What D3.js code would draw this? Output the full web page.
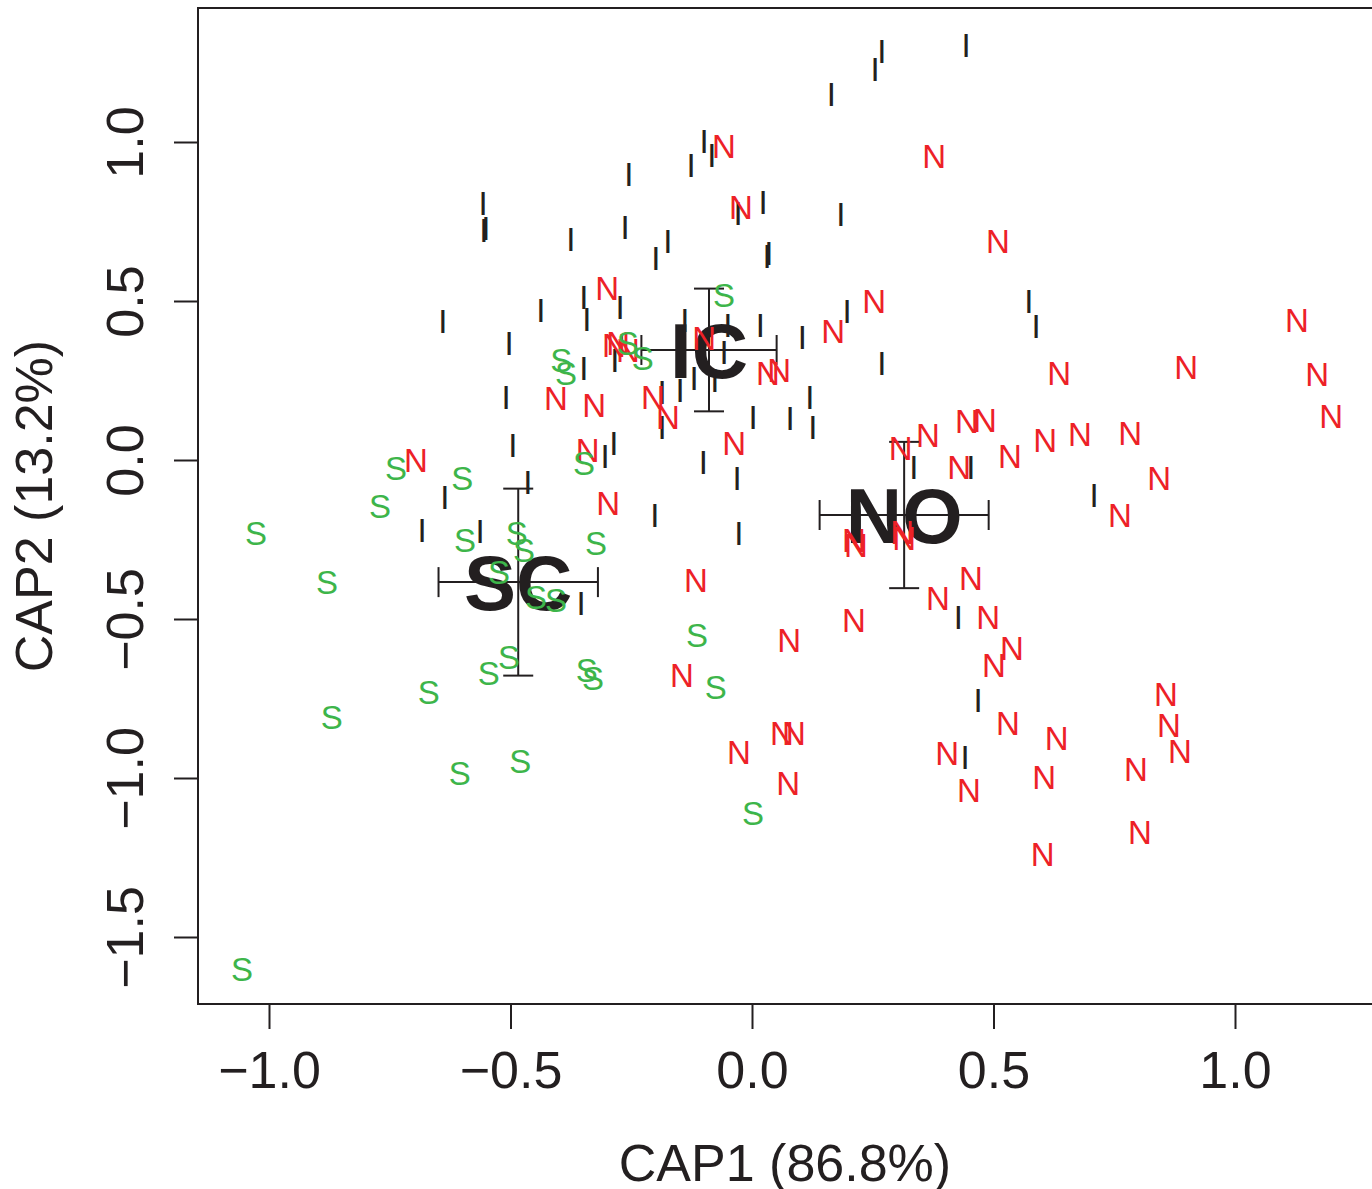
<!DOCTYPE html>
<html>
<head>
<meta charset="utf-8">
<script src="https://cdn.jsdelivr.net/npm/d3@7"></script>
<style>
  html, body { margin: 0; padding: 0; background: #fff; }
  svg text { font-family: "Liberation Sans", Arial, Helvetica, sans-serif; }
</style>
</head>
<body>
<svg id="chart" width="1372" height="1189"></svg>
<script>
// ---- data ----
const xTicks = [-1.0, -0.5, 0.0, 0.5, 1.0];
const yTicks = [-1.5, -1.0, -0.5, 0.0, 0.5, 1.0];
const xTitle = "CAP1 (86.8%)";
const yTitle = "CAP2 (13.2%)";

// group "I" samples [CAP1, CAP2]
const pointsI = [
  [-0.557,0.808],[-0.555,0.723],[-0.551,0.730],[-0.375,0.695],[-0.348,0.513],[-0.342,0.443],
  [-0.437,0.472],[-0.640,0.437],[-0.503,0.368],[0.269,1.286],[0.255,1.230],[0.164,1.151],
  [0.443,1.305],[-0.099,1.003],[-0.083,0.959],[-0.126,0.928],[-0.255,0.899],[0.023,0.811],
  [-0.029,0.777],[0.184,0.774],[-0.263,0.733],[-0.174,0.689],[-0.199,0.635],[0.035,0.651],
  [0.031,0.642],[-0.273,0.481],[0.197,0.469],[0.573,0.500],[0.588,0.421],[-0.139,0.440],
  [-0.050,0.425],[0.017,0.425],[0.104,0.387],[0.269,0.305],[-0.348,0.289],[-0.509,0.198],
  [-0.495,0.047],[-0.464,-0.069],[-0.636,-0.116],[-0.683,-0.220],[-0.563,-0.223],[-0.354,-0.450],
  [-0.284,0.314],[-0.186,0.214],[-0.149,0.220],[-0.186,0.104],[-0.120,0.258],[-0.077,0.252],
  [-0.058,0.340],[0.120,0.198],[0.002,0.135],[0.079,0.132],[0.126,0.104],[-0.286,0.053],
  [-0.304,0.013],[-0.101,-0.006],[-0.031,-0.057],[-0.201,-0.173],[-0.027,-0.230],[0.335,-0.022],
  [0.453,-0.022],[0.708,-0.110],[0.427,-0.494],[0.468,-0.755],[0.441,-0.934]
];
// group "N" samples
const pointsN = [
  [-0.058,0.987],[-0.023,0.796],[0.377,0.956],[-0.300,0.541],[0.253,0.500],[0.168,0.406],
  [0.509,0.689],[1.128,0.440],[0.636,0.274],[0.899,0.292],[1.170,0.270],[1.199,0.138],
  [0.445,0.123],[0.482,0.126],[0.534,0.013],[0.607,0.063],[0.679,0.082],[0.783,0.085],
  [0.843,-0.057],[0.762,-0.173],[0.489,-0.494],[0.538,-0.591],[-0.277,0.368],[-0.099,0.384],
  [0.033,0.274],[0.056,0.283],[-0.205,0.198],[-0.174,0.135],[-0.327,0.173],[-0.406,0.195],
  [-0.037,0.053],[-0.298,-0.135],[-0.340,0.031],[0.308,0.038],[0.364,0.079],[0.429,-0.022],
  [0.215,-0.267],[0.315,-0.245],[0.211,-0.252],[0.311,-0.226],[-0.116,-0.377],[0.453,-0.371],
  [0.385,-0.434],[0.211,-0.503],[0.077,-0.566],[-0.145,-0.676],[-0.027,-0.918],[0.062,-0.858],
  [0.087,-0.858],[0.075,-1.016],[0.404,-0.921],[0.449,-1.038],[0.501,-0.645],[0.530,-0.827],
  [0.631,-0.874],[0.605,-0.997],[0.602,-1.239],[0.857,-0.736],[0.863,-0.833],[0.886,-0.915],
  [0.795,-0.972],[0.803,-1.170],[-0.696,0.000],[-0.286,0.362],[-0.257,0.346]
];
// group "S" samples
const pointsS = [
  [-1.027,-0.230],[-0.880,-0.384],[-0.770,-0.145],[-0.737,-0.025],[-0.600,-0.057],[-0.594,-0.252],
  [-0.395,0.314],[-0.385,0.274],[-0.348,-0.009],[-0.487,-0.230],[-0.472,-0.283],[-0.524,-0.352],
  [-0.447,-0.431],[-0.406,-0.440],[-0.323,-0.261],[-0.503,-0.619],[-1.056,-1.601],[-0.870,-0.808],
  [-0.669,-0.730],[-0.545,-0.670],[-0.605,-0.984],[-0.480,-0.947],[-0.342,-0.660],[-0.329,-0.686],
  [-0.075,-0.714],[0.002,-1.110],[-0.257,0.368],[-0.226,0.321],[-0.114,-0.550],[-0.058,0.519]
];

// group centroids with ± error
const centroidNames = ["IC", "SC", "NO"];
const centroidX = [-0.089, -0.484, 0.315];
const centroidY = [0.346, -0.384, -0.173];
const errX = [0.140, 0.165, 0.175];
const errY = [0.193, 0.294, 0.230];

// ---- drawing ----
const svg = d3.select("#chart");
const ink = "#231f20";
const boxL = 198, boxR = 1374, boxT = 8, boxB = 1004;

const x = d3.scaleLinear().domain([-1, 1]).range([269, 1235]);
const y = d3.scaleLinear().domain([-1, 1]).range([778, 142]);

// box
svg.append("rect")
  .attr("x", boxL).attr("y", boxT)
  .attr("width", boxR - boxL).attr("height", boxB - boxT)
  .attr("fill", "none").attr("stroke", ink).attr("stroke-width", 2);

const fmt = d => d3.format(".1f")(d).replace("-", "\u2212");

// x axis
const xAxis = d3.axisBottom(x).tickValues(xTicks).tickSize(25).tickPadding(22).tickFormat(fmt);
const gx = svg.append("g").attr("transform", `translate(0,${boxB})`).call(xAxis);
gx.select(".domain").remove();
gx.selectAll(".tick line").attr("stroke", ink).attr("stroke-width", 2);
gx.selectAll(".tick text").attr("font-size", 52).attr("fill", ink)
  .attr("font-family", "Liberation Sans, Arial, sans-serif");

// y axis
const yAxis = d3.axisLeft(y).tickValues(yTicks).tickSize(24).tickPadding(0).tickFormat(fmt);
const gy = svg.append("g").attr("transform", `translate(${boxL},0)`).call(yAxis);
gy.select(".domain").remove();
gy.selectAll(".tick line").attr("stroke", ink).attr("stroke-width", 2);
gy.selectAll(".tick text")
  .attr("font-size", 52).attr("fill", ink)
  .attr("font-family", "Liberation Sans, Arial, sans-serif")
  .attr("text-anchor", "middle")
  .attr("dy", 0)
  .attr("x", 0)
  .attr("transform", "translate(-55,0) rotate(-90)");

// titles
svg.append("text")
  .attr("x", (boxL + 1372) / 2).attr("y", 1181)
  .attr("text-anchor", "middle").attr("font-size", 52).attr("fill", ink)
  .text(xTitle);
svg.append("text")
  .attr("transform", `translate(52,${(boxT + boxB) / 2}) rotate(-90)`)
  .attr("text-anchor", "middle").attr("font-size", 52).attr("fill", ink)
  .text(yTitle);

// error bars
const cap = 15;
const eb = svg.append("g").attr("stroke", ink).attr("stroke-width", 2).attr("fill", "none");
centroidNames.forEach((name, i) => {
  const cx = x(centroidX[i]), cy = y(centroidY[i]);
  const x0 = x(centroidX[i] - errX[i]), x1 = x(centroidX[i] + errX[i]);
  const y0 = y(centroidY[i] + errY[i]), y1 = y(centroidY[i] - errY[i]);
  eb.append("line").attr("x1", x0).attr("x2", x1).attr("y1", cy).attr("y2", cy);
  eb.append("line").attr("x1", cx).attr("x2", cx).attr("y1", y0).attr("y2", y1);
  eb.append("line").attr("x1", x0).attr("x2", x0).attr("y1", cy - cap).attr("y2", cy + cap);
  eb.append("line").attr("x1", x1).attr("x2", x1).attr("y1", cy - cap).attr("y2", cy + cap);
  eb.append("line").attr("x1", cx - cap).attr("x2", cx + cap).attr("y1", y0).attr("y2", y0);
  eb.append("line").attr("x1", cx - cap).attr("x2", cx + cap).attr("y1", y1).attr("y2", y1);
});

// centroid labels
svg.append("g").selectAll("text").data(centroidNames).join("text")
  .attr("x", (d, i) => x(centroidX[i]))
  .attr("y", (d, i) => y(centroidY[i]))
  .attr("dy", "0.36em")
  .attr("text-anchor", "middle")
  .attr("font-size", 78).attr("font-weight", "bold").attr("fill", ink)
  .text(d => d);

// points as letters
function drawGroup(data, letter, color) {
  svg.append("g").selectAll("text").data(data).join("text")
    .attr("x", d => x(d[0]))
    .attr("y", d => y(d[1]))
    .attr("dy", "0.36em")
    .attr("text-anchor", "middle")
    .attr("font-size", 33)
    .attr("fill", color)
    .text(letter);
}
drawGroup(pointsI, "I", ink);
drawGroup(pointsN, "N", "#ed2127");
drawGroup(pointsS, "S", "#3db54a");
</script>
</body>
</html>
